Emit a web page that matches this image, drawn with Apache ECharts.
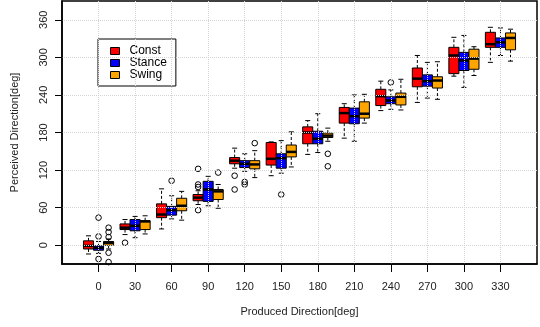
<!DOCTYPE html>
<html>
<head>
<meta charset="utf-8">
<script src="https://cdn.jsdelivr.net/npm/echarts@6/dist/echarts.min.js"></script>
<style>
html, body { margin: 0; padding: 0; background: #fff; }
#chart { width: 540px; height: 327px; }
</style>
</head>
<body>
<div id="chart"></div>
<script>
// 产生方向（x 轴类别）
var categories = ['0', '30', '60', '90', '120', '150', '180', '210', '240', '270', '300', '330'];
// y 轴刻度标签
var yTicks = [0, 60, 120, 180, 240, 300, 360];

// 每组: [下须, Q1, 中位数, Q3, 上须]
var constStats = [
    [-14, -6, -1, 7, 15], [17, 25, 28, 34, 41], [26, 44, 49, 66, 90], [65, 71, 76, 81, 87],
    [123, 130, 135, 140, 155], [111, 128, 138, 164, 165], [145, 162, 180, 189, 199], [171, 195, 211, 220, 226],
    [215, 223, 238, 249, 262], [228, 253, 266, 283, 303], [270, 274, 303, 316, 332], [292, 316, 321, 340, 348]
];
var stanceStats = [
    [-13, -8, -4, -1, 6], [12, 23, 31, 41, 46], [42, 48, 56, 62, 79], [63, 70, 89, 102, 110],
    [118, 124, 130, 135, 146], [115, 123, 139, 146, 167], [148, 162, 170, 182, 210], [166, 194, 206, 219, 240],
    [217, 226, 231, 237, 248], [235, 254, 262, 272, 292], [252, 279, 295, 308, 335], [303, 316, 324, 331, 347]
];
var swingStats = [
    [-6, 0, 4, 6, 10], [18, 25, 38, 39, 47], [40, 55, 63, 75, 86], [59, 73, 86, 89, 97],
    [108, 122, 129, 135, 151], [125, 141, 149, 160, 181], [166, 172, 175, 179, 187], [195, 203, 210, 229, 241],
    [216, 224, 237, 243, 265], [233, 251, 263, 269, 293], [271, 281, 298, 313, 317], [294, 312, 331, 339, 345]
];

// 离群点: [类别, 值]
var constOutliers = [['30', 4], ['90', 122], ['90', 97], ['90', 93], ['90', 56], ['120', 111], ['120', 89]];
var stanceOutliers = [['0', 44], ['0', 14], ['0', -22], ['60', 103], ['120', 101], ['120', 97], ['150', 81], ['240', 260]];
var swingOutliers = [['0', 28], ['0', 21], ['0', 13], ['0', -12], ['0', -27], ['90', 116], ['120', 163], ['180', 146], ['180', 126]];

var groups = [
    { name: 'Const', color: '#ff0000', stats: constStats, outliers: constOutliers, slot: -1 },
    { name: 'Stance', color: '#0000ff', stats: stanceStats, outliers: stanceOutliers, slot: 0 },
    { name: 'Swing', color: '#ffa500', stats: swingStats, outliers: swingOutliers, slot: 1 }
];
var slotOf = {};
groups.forEach(function (g) { slotOf[g.name] = g.slot; });

// 两端留空类别，使坐标轴边缘各留一格
var axisCats = [''].concat(categories).concat(['']);

// 画箱体
function renderBox(params, api) {
    var band = api.size([1, 0])[0];
    var w = band * 0.275;
    var cat = api.value(0);
    var cx = api.coord([cat, 0])[0] + slotOf[params.seriesName] * w;
    var yLow = api.coord([cat, api.value(1)])[1];
    var yQ1 = api.coord([cat, api.value(2)])[1];
    var yMed = api.coord([cat, api.value(3)])[1];
    var yQ3 = api.coord([cat, api.value(4)])[1];
    var yHigh = api.coord([cat, api.value(5)])[1];
    var cap = w / 4;
    var dash = { stroke: '#000', lineWidth: 1, lineDash: [3, 2] };
    var solid = { stroke: '#000', lineWidth: 1 };
    return {
        type: 'group',
        children: [
            { type: 'line', shape: { x1: cx, y1: yQ3, x2: cx, y2: yHigh }, style: dash },
            { type: 'line', shape: { x1: cx, y1: yQ1, x2: cx, y2: yLow }, style: dash },
            { type: 'line', shape: { x1: cx - cap, y1: yHigh, x2: cx + cap, y2: yHigh }, style: solid },
            { type: 'line', shape: { x1: cx - cap, y1: yLow, x2: cx + cap, y2: yLow }, style: solid },
            {
                type: 'rect',
                shape: { x: cx - w / 2, y: yQ3, width: w, height: yQ1 - yQ3 },
                style: { fill: api.visual('color'), stroke: '#000', lineWidth: 1 }
            },
            { type: 'line', shape: { x1: cx - w / 2, y1: yMed, x2: cx + w / 2, y2: yMed }, style: { stroke: '#000', lineWidth: 2.5 } }
        ]
    };
}

// 画离群点
function renderOutlier(params, api) {
    var band = api.size([1, 0])[0];
    var w = band * 0.275;
    var p = api.coord([api.value(0), api.value(1)]);
    return {
        type: 'circle',
        shape: { cx: p[0] + slotOf[params.seriesName] * w, cy: p[1], r: 2.8 },
        style: { fill: 'none', stroke: '#000', lineWidth: 1 }
    };
}

var series = [];
groups.forEach(function (g) {
    series.push({
        name: g.name,
        type: 'custom',
        renderItem: renderBox,
        itemStyle: { color: g.color },
        encode: { x: 0, y: [1, 2, 3, 4, 5] },
        data: categories.map(function (c, i) { return [c].concat(g.stats[i]); })
    });
});
groups.forEach(function (g) {
    series.push({
        name: g.name,
        type: 'custom',
        renderItem: renderOutlier,
        itemStyle: { color: g.color },
        encode: { x: 0, y: 1 },
        data: g.outliers
    });
});

var font = 'Liberation Sans, Arial, sans-serif';
var myChart = echarts.init(document.getElementById('chart'));
myChart.setOption({
    animation: false,
    backgroundColor: '#fff',
    grid: {
        left: 62, right: -5, top: 1, bottom: 63,
        show: true, borderColor: '#000', borderWidth: 1.5
    },
    legend: {
        orient: 'vertical',
        left: 98, top: 39,
        padding: [6, 9, 5, 12],
        itemWidth: 9, itemHeight: 7, itemGap: 0,
        borderColor: '#000', borderWidth: 1,
        selectedMode: false,
        icon: 'rect',
        textStyle: { fontFamily: font, fontSize: 12, lineHeight: 11, color: '#000', padding: [0, 0, 0, 5] },
        data: groups.map(function (g) {
            return { name: g.name, itemStyle: { color: g.color, borderColor: '#000', borderWidth: 1 } };
        })
    },
    xAxis: {
        type: 'category',
        data: axisCats,
        boundaryGap: false,
        z: 5,
        name: 'Produced Direction[deg]',
        nameLocation: 'middle',
        nameGap: 42,
        nameTextStyle: { fontFamily: font, fontSize: 11, color: '#222' },
        axisLine: { onZero: false, lineStyle: { color: '#000', width: 1.5 } },
        axisTick: {
            length: 8,
            lineStyle: { color: '#000' },
            interval: function (i, v) { return v !== ''; }
        },
        axisLabel: { interval: 0, margin: 17, fontFamily: font, fontSize: 11, color: '#222' },
        splitLine: {
            show: true,
            interval: function (i, v) { return v !== ''; },
            lineStyle: { color: '#d4d4d4', type: 'dotted', width: 1 }
        }
    },
    yAxis: {
        type: 'value',
        min: -30, max: 390, interval: 30,
        z: 5,
        name: 'Perceived Direction[deg]',
        nameLocation: 'middle',
        nameGap: 42,
        nameTextStyle: { fontFamily: font, fontSize: 11, color: '#222' },
        axisLine: { show: true, onZero: false, lineStyle: { color: '#000', width: 1.5 } },
        axisTick: { show: true, length: 7, lineStyle: { color: '#000' }, customValues: yTicks },
        axisLabel: { rotate: 90, margin: 13, fontFamily: font, fontSize: 11, color: '#222', customValues: yTicks },
        splitLine: { show: true, lineStyle: { color: '#d4d4d4', type: 'dotted', width: 1 } }
    },
    series: series
});
</script>
</body>
</html>
